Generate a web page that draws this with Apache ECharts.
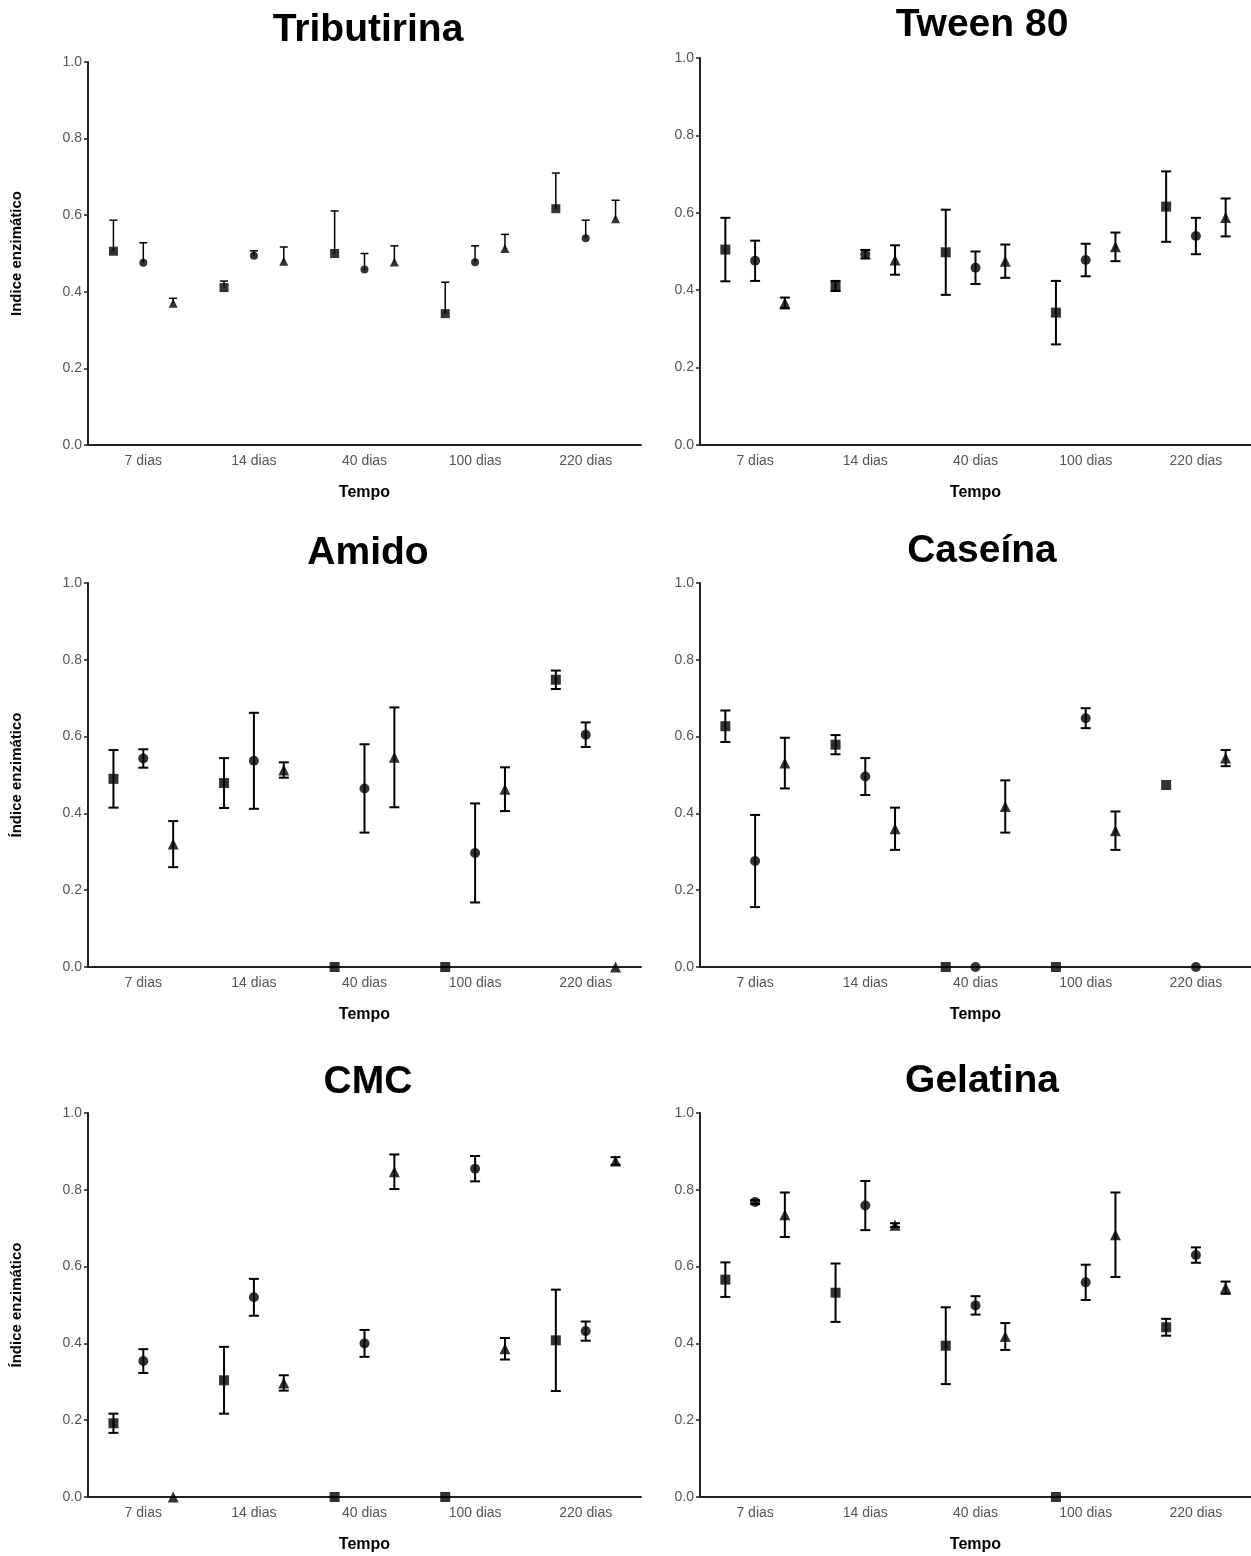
<!DOCTYPE html>
<html>
<head>
<meta charset="utf-8">
<title>Índice enzimático</title>
<script src="https://cdn.jsdelivr.net/npm/echarts@6/dist/echarts.min.js"></script>
<style>
	html, body { margin: 0; padding: 0; background: #fff; }
	#chart { width: 1251px; height: 1556px; }
</style>
</head>
<body>
<div id="chart"></div>
<script>
// categorias do eixo x
var dias = ['7 dias', '14 dias', '40 dias', '100 dias', '220 dias'];
var yTicks = [0, 0.2, 0.4, 0.6, 0.8, 1.0];

// cada linha: [quadrado, círculo, triângulo]
var tributirinaMedia = [
	[0.506, 0.411, 0.500, 0.343, 0.617],
	[0.476, 0.494, 0.458, 0.477, 0.540],
	[0.370, 0.480, 0.478, 0.513, 0.591]
];
var tributirinaErro = [
	[0.081, 0.017, 0.111, 0.082, 0.093],
	[0.052, 0.013, 0.042, 0.043, 0.047],
	[0.013, 0.037, 0.042, 0.037, 0.048]
];

var tweenMedia = [
	[0.505, 0.411, 0.498, 0.342, 0.616],
	[0.476, 0.493, 0.458, 0.478, 0.540],
	[0.367, 0.478, 0.475, 0.512, 0.588]
];
var tweenErro = [
	[0.082, 0.013, 0.110, 0.082, 0.091],
	[0.052, 0.011, 0.042, 0.042, 0.047],
	[0.014, 0.038, 0.043, 0.037, 0.049]
];

var amidoMedia = [
	[0.490, 0.479, 0, 0, 0.748],
	[0.543, 0.537, 0.465, 0.297, 0.605],
	[0.320, 0.513, 0.546, 0.463, 0]
];
var amidoErro = [
	[0.075, 0.065, 0, 0, 0.024],
	[0.024, 0.125, 0.115, 0.129, 0.032],
	[0.060, 0.020, 0.130, 0.057, 0]
];

var caseinaMedia = [
	[0.627, 0.579, 0, 0, 0.474],
	[0.276, 0.496, 0, 0.648, 0],
	[0.531, 0.360, 0.418, 0.355, 0.544]
];
var caseinaErro = [
	[0.041, 0.025, 0, 0, 0],
	[0.120, 0.048, 0, 0.026, 0],
	[0.066, 0.055, 0.068, 0.050, 0.021]
];

var cmcMedia = [
	[0.192, 0.304, 0, 0, 0.408],
	[0.354, 0.520, 0.400, 0.855, 0.432],
	[0, 0.297, 0.847, 0.386, 0.875]
];
var cmcErro = [
	[0.025, 0.087, 0, 0, 0.132],
	[0.031, 0.048, 0.035, 0.033, 0.025],
	[0, 0.020, 0.045, 0.028, 0.010]
];

var gelatinaMedia = [
	[0.566, 0.532, 0.394, 0, 0.442],
	[0.768, 0.759, 0.499, 0.559, 0.630],
	[0.735, 0.708, 0.418, 0.683, 0.545]
];
var gelatinaErro = [
	[0.045, 0.076, 0.100, 0, 0.022],
	[0.005, 0.064, 0.024, 0.046, 0.020],
	[0.058, 0.005, 0.035, 0.110, 0.016]
];

// painéis
var paineis = [
	{titulo: 'Tributirina', media: tributirinaMedia, erro: tributirinaErro, soCima: true, ylabel: 'Indice enzimático',
		left: 88, top: 62, width: 553, height: 383, tx: 363, ty: 6},
	{titulo: 'Tween 80', media: tweenMedia, erro: tweenErro, soCima: false, ylabel: '',
		left: 700, top: 58, width: 557, height: 387, tx: 977, ty: 1},
	{titulo: 'Amido', media: amidoMedia, erro: amidoErro, soCima: false, ylabel: 'Índice enzimático',
		left: 88, top: 583, width: 553, height: 384, tx: 363, ty: 529},
	{titulo: 'Caseína', media: caseinaMedia, erro: caseinaErro, soCima: false, ylabel: '',
		left: 700, top: 583, width: 557, height: 384, tx: 977, ty: 527},
	{titulo: 'CMC', media: cmcMedia, erro: cmcErro, soCima: false, ylabel: 'Índice enzimático',
		left: 88, top: 1113, width: 553, height: 384, tx: 363, ty: 1058},
	{titulo: 'Gelatina', media: gelatinaMedia, erro: gelatinaErro, soCima: false, ylabel: '',
		left: 700, top: 1113, width: 557, height: 384, tx: 977, ty: 1057}
];

var simbolos = ['rect', 'circle', 'triangle'];
var deslocamento = [-0.27, 0, 0.27];
var fonte = '"Liberation Sans", Arial, sans-serif';

var titles = [], grids = [], xAxes = [], yAxes = [], series = [];

paineis.forEach(function(p, k) {
	var fino = p.soCima;
	titles.push({
		text: p.titulo, left: p.tx, top: p.ty, textAlign: 'center',
		textStyle: {fontFamily: fonte, fontSize: 39, fontWeight: 'bold', color: '#000'}
	});
	grids.push({left: p.left, top: p.top, width: p.width, height: p.height});
	// eixo de categorias (rótulos e marcas)
	xAxes.push({
		type: 'category', gridIndex: k, data: dias, boundaryGap: true,
		name: 'Tempo', nameLocation: 'middle', nameGap: 40,
		nameTextStyle: {fontFamily: fonte, fontSize: 16, fontWeight: 'bold', color: '#000'},
		axisLine: {lineStyle: {color: '#222', width: 2}},
		axisTick: {alignWithLabel: true, length: 4, lineStyle: {color: '#222', width: 1.5}},
		axisLabel: {fontFamily: fonte, fontSize: 14, color: '#555', margin: 9},
		splitLine: {show: false}
	});
	// eixo numérico escondido para posicionar os pontos
	xAxes.push({type: 'value', gridIndex: k, min: -0.5, max: 4.5, show: false});
	yAxes.push({
		type: 'value', gridIndex: k, min: 0, max: 1, interval: 0.2,
		name: p.ylabel, nameLocation: 'middle', nameGap: 64, nameRotate: 90,
		nameTextStyle: {fontFamily: fonte, fontSize: 15, fontWeight: 'bold', color: '#000'},
		axisLine: {show: true, onZero: false, lineStyle: {color: '#222', width: 2}},
		axisTick: {show: true, length: 4, lineStyle: {color: '#222', width: 1.5}},
		axisLabel: {fontFamily: fonte, fontSize: 14, color: '#555', margin: 6,
			formatter: function(v) { return v.toFixed(1); }},
		splitLine: {show: false}
	});

	for (var g = 0; g < 3; g++) {
		var pontos = [], barras = [];
		for (var i = 0; i < dias.length; i++) {
			var x = i + deslocamento[g];
			var m = p.media[g][i], e = p.erro[g][i];
			pontos.push([x, m]);
			if (e > 0) {
				barras.push([x, p.soCima ? m : m - e, m + e]);
			}
		}
		// barras de erro
		series.push({
			type: 'custom', xAxisIndex: k * 2 + 1, yAxisIndex: k, z: 2, silent: true,
			data: barras,
			renderItem: (function(soCima, lw, cap) {
				return function(params, api) {
					var lo = api.coord([api.value(0), api.value(1)]);
					var hi = api.coord([api.value(0), api.value(2)]);
					var estilo = {stroke: '#000', lineWidth: lw};
					var filhos = [
						{type: 'line', shape: {x1: hi[0], y1: hi[1], x2: lo[0], y2: lo[1]}, style: estilo},
						{type: 'line', shape: {x1: hi[0] - cap, y1: hi[1], x2: hi[0] + cap, y2: hi[1]}, style: estilo}
					];
					if (!soCima) {
						filhos.push({type: 'line', shape: {x1: lo[0] - cap, y1: lo[1], x2: lo[0] + cap, y2: lo[1]}, style: estilo});
					}
					return {type: 'group', children: filhos};
				};
			})(p.soCima, fino ? 1.5 : 2, fino ? 4 : 5)
		});
		// marcadores
		series.push({
			type: 'scatter', xAxisIndex: k * 2 + 1, yAxisIndex: k, z: 3, silent: true,
			symbol: simbolos[g],
			symbolSize: fino ? (g == 1 ? 8 : 9) : (g == 2 ? 11 : 10),
			itemStyle: {color: '#000'},
			clip: false,
			data: pontos
		});
	}
});

var myChart = echarts.init(document.getElementById('chart'), null, {renderer: 'canvas'});
myChart.setOption({
	animation: false,
	backgroundColor: '#fff',
	title: titles,
	grid: grids,
	xAxis: xAxes,
	yAxis: yAxes,
	series: series
});
</script>
</body>
</html>
